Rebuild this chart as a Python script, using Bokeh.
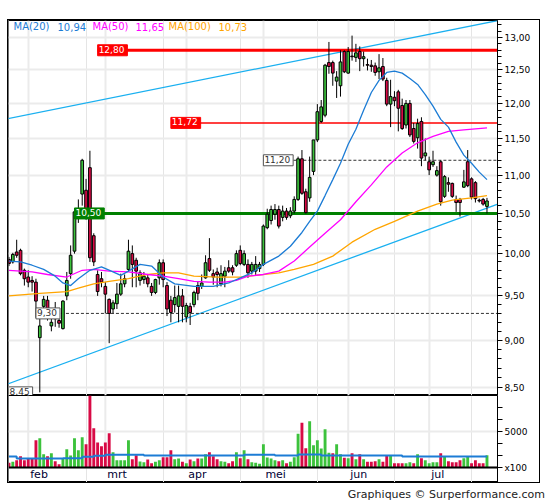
from bokeh.plotting import figure
from bokeh.models import (ColumnDataSource, FixedTicker, Range1d, Grid, CustomJSTickFormatter,
                          Label, Span, Div, Spacer)
from bokeh.layouts import column, row
from bokeh.core.properties import value
from bokeh.embed import file_html
from bokeh.resources import INLINE

# ---------------- data ----------------
opens = [9.93, 9.90, 10.02, 10.04, 9.80, 9.72, 9.68, 9.66, 9.03, 9.38,
         9.45, 9.16, 9.35, 9.22, 9.13, 9.50, 9.76, 10.03, 10.45, 10.75,
         10.80, 11.10, 10.22, 9.75, 9.70, 9.61, 9.46, 9.35, 9.41, 9.52,
         9.64, 9.81, 10.00, 9.92, 9.68, 9.69, 9.71, 9.61, 9.54, 9.71,
         9.89, 9.62, 9.45, 9.40, 9.38, 9.50, 9.26, 9.38, 9.40, 9.62,
         9.61, 9.71, 9.94, 9.76, 9.78, 9.64, 9.73, 9.83, 9.83, 9.86,
         10.04, 9.87, 9.87, 9.79, 9.79, 9.82, 9.87, 10.32, 10.41, 10.49,
         10.55, 10.45, 10.53, 10.47, 10.53, 10.68, 11.22, 10.78, 10.70, 11.05,
         11.48, 11.74, 11.83, 12.61, 12.61, 12.33, 12.26, 12.78, 12.45, 12.71,
         12.69, 12.78, 12.67, 12.58, 12.57, 12.56, 12.47, 12.55, 12.34, 11.99,
         12.09, 12.17, 11.97, 11.69, 12.00, 11.64, 11.51, 11.74, 11.26, 11.18,
         11.14, 11.00, 11.18, 10.72, 10.90, 10.89, 10.68, 10.68, 10.84, 11.18,
         10.95, 10.90, 10.67, 10.68, 10.59]
highs = [9.96, 10.01, 10.17, 10.06, 9.82, 9.80, 9.73, 9.70, 9.31, 9.50,
         9.50, 9.30, 9.43, 9.25, 9.45, 9.78, 10.10, 10.55, 10.68, 11.22,
         10.95, 11.33, 10.25, 9.80, 9.78, 9.66, 9.47, 9.45, 9.65, 9.76,
         9.75, 10.17, 10.10, 9.95, 9.80, 9.78, 9.75, 9.65, 9.70, 9.93,
         9.93, 9.66, 9.50, 9.62, 9.62, 9.58, 9.42, 9.42, 9.56, 9.67,
         9.75, 9.98, 10.19, 9.81, 9.83, 9.86, 9.84, 9.92, 9.86, 10.04,
         10.10, 10.04, 9.93, 9.90, 9.97, 9.90, 10.36, 10.56, 10.60, 10.62,
         10.60, 10.60, 10.57, 10.58, 10.72, 11.25, 11.34, 10.82, 11.25, 11.48,
         11.99, 12.05, 12.59, 12.93, 12.64, 12.48, 12.80, 12.80, 12.85, 13.03,
         12.90, 12.86, 12.78, 12.67, 12.65, 12.61, 12.74, 12.68, 12.38, 12.35,
         12.18, 12.20, 12.07, 12.05, 12.05, 11.72, 11.78, 11.80, 11.50, 11.25,
         11.33, 11.12, 11.20, 11.00, 10.97, 10.90, 10.73, 10.70, 11.07, 11.34,
         10.97, 10.92, 10.69, 10.70, 10.70]
lows = [9.85, 9.88, 9.95, 9.74, 9.62, 9.60, 9.55, 9.25, 8.45, 9.30,
        9.22, 9.10, 9.15, 9.14, 9.12, 9.45, 9.70, 10.00, 10.38, 10.60,
        10.42, 9.90, 9.85, 9.50, 9.60, 9.30, 8.97, 9.30, 9.35, 9.50,
        9.60, 9.78, 9.60, 9.60, 9.62, 9.64, 9.60, 9.50, 9.52, 9.63,
        9.60, 9.27, 9.20, 9.31, 9.20, 9.20, 9.20, 9.17, 9.37, 9.45,
        9.58, 9.70, 9.78, 9.63, 9.60, 9.61, 9.60, 9.77, 9.74, 9.84,
        9.86, 9.85, 9.71, 9.75, 9.74, 9.78, 9.85, 10.30, 10.36, 10.42,
        10.31, 10.40, 10.42, 10.44, 10.50, 10.66, 10.74, 10.50, 10.65, 11.00,
        11.45, 11.72, 11.80, 12.44, 12.26, 12.08, 12.10, 12.45, 12.44, 12.64,
        12.62, 12.48, 12.55, 12.49, 12.47, 12.41, 12.36, 12.33, 11.96, 11.66,
        11.96, 11.60, 11.62, 11.64, 11.52, 11.43, 11.36, 11.12, 11.20, 11.00,
        11.11, 10.98, 10.60, 10.70, 10.78, 10.70, 10.52, 10.46, 10.83, 10.84,
        10.68, 10.64, 10.64, 10.60, 10.50]
closes = [9.88, 9.99, 9.98, 9.76, 9.70, 9.66, 9.66, 9.44, 9.16, 9.46,
          9.32, 9.20, 9.24, 9.19, 9.44, 9.68, 9.98, 10.52, 10.55, 11.20,
          10.48, 9.95, 9.90, 9.55, 9.66, 9.52, 9.30, 9.42, 9.52, 9.64,
          9.70, 10.03, 9.87, 9.79, 9.77, 9.73, 9.64, 9.54, 9.69, 9.89,
          9.69, 9.35, 9.31, 9.48, 9.50, 9.38, 9.39, 9.31, 9.54, 9.53,
          9.65, 9.89, 9.80, 9.72, 9.75, 9.76, 9.79, 9.79, 9.78, 10.00,
          9.88, 10.00, 9.77, 9.87, 9.87, 9.87, 10.34, 10.49, 10.55, 10.55,
          10.34, 10.53, 10.45, 10.53, 10.68, 11.22, 10.76, 10.51, 10.97, 11.48,
          11.88, 11.95, 12.57, 12.55, 12.45, 12.39, 12.62, 12.47, 12.78, 12.70,
          12.76, 12.67, 12.70, 12.57, 12.55, 12.46, 12.53, 12.36, 11.99, 12.10,
          12.04, 11.93, 11.64, 12.00, 11.55, 11.46, 11.71, 11.23, 11.30, 11.07,
          11.18, 11.06, 10.65, 10.98, 10.88, 10.72, 10.64, 10.64, 10.91, 10.86,
          10.71, 10.69, 10.66, 10.62, 10.66]
# volume in units of 100 shares
volumes = [650, 790, 1020, 1570, 1020, 1250, 1250, 3800, 4070, 1850,
           1570, 1990, 880, 460, 1250, 2550, 1670, 4070, 2410, 4210,
           3240, 10000, 5460, 3470, 2960, 3470, 4770, 2130, 1020, 1020,
           1020, 3800, 1160, 1710, 830, 740, 1110, 600, 790, 1020,
           1440, 1440, 2410, 1160, 1250, 790, 600, 1110, 880, 1250,
           1250, 1850, 2130, 1570, 1160, 880, 790, 600, 880, 2130,
           1300, 2410, 1160, 740, 650, 510, 3240, 1390, 1250, 1020,
           880, 1020, 600, 790, 1440, 4680, 6200, 2690, 6440, 3100,
           3800, 2640, 5320, 2040, 1990, 3240, 1850, 1340, 1300, 1990,
           1160, 1850, 1160, 790, 790, 880, 1160, 790, 1670, 1670,
           600, 600, 600, 600, 740, 600, 1850, 1300, 1020, 600,
           740, 740, 1990, 1570, 880, 740, 740, 1020, 1300, 1570,
           600, 1020, 600, 600, 1710]
vol_dir = ("RGRRRRRRGG" "RGRRGGGGGG" "RRRRRRRGGG" "GGRRGGRRGG" "RRRGGRGRGR"
           "GGRRRGGRRG" "RGRGGGGGGG" "RGRGGGRRGG" "GGGGRGGRGR" "GRGRRRGRRG"
           "RRRGGRGRGG" "GGRGRRRRGG" "RRRRG")
vol_ma_x = [0, 2, 14, 19, 22, 25, 35, 61, 69, 75, 81, 102, 124]
vol_ma_y = [1530, 1250, 1300, 1480, 1620, 1760, 1670, 1780, 1670, 1800, 1670, 1530, 1530]
vol_unit = "x100"

ma20_x = [0, 3, 6, 9, 12, 14, 16, 18, 21, 24, 27, 29, 31, 34, 37, 40, 43, 48, 53, 57,
          60, 63, 66, 70, 73, 76, 78, 80, 82, 84, 86, 88, 90, 92, 94, 96, 98, 100, 102,
          104, 106, 108, 110, 112, 114, 116, 118, 120, 122, 124]
ma20_y = [9.91, 9.90, 9.86, 9.81, 9.73, 9.65, 9.62, 9.70, 9.80, 9.84, 9.78, 9.74, 9.79,
          9.87, 9.85, 9.72, 9.64, 9.61, 9.61, 9.65, 9.71, 9.77, 9.87, 9.97, 10.09, 10.26,
          10.40, 10.53, 10.73, 10.94, 11.16, 11.42, 11.63, 11.90, 12.16, 12.34, 12.46,
          12.48, 12.45, 12.37, 12.28, 12.13, 11.96, 11.77, 11.66, 11.45, 11.27, 11.16,
          11.04, 10.94]
ma50_x = [0, 6, 10, 15, 19, 22, 26, 31, 36, 40, 44, 48, 52, 56, 59, 62, 66, 70, 74, 78,
          82, 86, 90, 94, 98, 102, 106, 110, 114, 118, 124]
ma50_y = [9.80, 9.78, 9.75, 9.72, 9.80, 9.81, 9.79, 9.78, 9.75, 9.73, 9.70, 9.67, 9.66,
          9.66, 9.68, 9.73, 9.75, 9.79, 9.91, 10.08, 10.25, 10.42, 10.65, 10.87, 11.11,
          11.30, 11.44, 11.53, 11.60, 11.62, 11.65]
ma100_x = [0, 8, 15, 18, 22, 26, 31, 36, 40, 44, 48, 54, 60, 64, 70, 74, 79, 84, 89, 95,
           100, 106, 111, 115, 120, 124]
ma100_y = [9.50, 9.53, 9.55, 9.59, 9.64, 9.67, 9.70, 9.75, 9.77, 9.77, 9.73, 9.72, 9.72,
           9.74, 9.77, 9.81, 9.87, 9.97, 10.14, 10.30, 10.40, 10.53, 10.62, 10.67, 10.70,
           10.73]
ma_names = ["MA(20)", "MA(50)", "MA(100)"]
ma_last = ["10,94", "11,65", "10,73"]

# trend lines (day index, price)
trend_hi_x = [-0.4, 126.8]
trend_hi_y = [11.78, 13.27]
trend_lo_x = [-0.4, 126.8]
trend_lo_y = [8.535, 10.62]

# horizontal levels
level_price = [12.80, 11.72, 11.20, 10.50, 9.30]
level_start = [23, 42, 66, 17, 7]
level_text = ["12,80", "11,72", "11,20", "10,50", "9,30"]
low_mark_price = 8.45
low_mark_text = "8,45"

month_idx = [5, 25, 46, 66, 88, 109]
month_names = ["feb", "mrt", "apr", "mei", "jun", "jul"]

price_ticks = [8.5, 9.0, 9.5, 10.0, 10.5, 11.0, 11.5, 12.0, 12.5, 13.0]
vol_ticks = [0, 5000]

# ---------------- styling ----------------
FONT = "DejaVu Sans"
RED = "#d80a45"
GREEN = "#3cc23c"
C20, C50, C100 = "#1c7cd5", "#ff00ff", "#ffa500"
TREND = "#1ab0f0"
GRID = "#ebebeb"
W = 531          # figure width (canvas)
RB = 42          # right axis band

n = len(closes)
xs = list(range(n))
src = ColumnDataSource(dict(
    x=xs, o=opens, h=highs, l=lows, c=closes,
    top=[max(o, c) for o, c in zip(opens, closes)],
    bot=[min(o, c) for o, c in zip(opens, closes)],
    col=[GREEN if c >= o else RED for o, c in zip(opens, closes)],
))
vsrc = ColumnDataSource(dict(x=xs, v=volumes, col=[GREEN if d == "G" else RED for d in vol_dir]))

xr = Range1d(-0.12, 126.73)
p1 = figure(width=W, height=375, y_axis_type="log", x_range=xr,
            y_range=Range1d(8.418, 13.271), x_axis_location=None, y_axis_location="right",
            output_backend="svg", toolbar_location=None,
            min_border_left=0, min_border_right=RB, min_border_top=0, min_border_bottom=0,
            background_fill_color="white", border_fill_color="white",
            outline_line_color="black", outline_line_width=1)
ax = p1.yaxis[0]
minor = [round(8.5 + 0.1 * k, 2) for k in range(48)]
ax.ticker = FixedTicker(ticks=price_ticks, minor_ticks=minor)
ax.formatter = CustomJSTickFormatter(code="return tick.toFixed(2).replace('.', ',');")
ax.major_label_text_font = FONT
ax.major_label_text_font_size = "9px"
ax.major_label_text_color = "black"
ax.major_label_standoff = 2
ax.major_tick_out = 5
ax.major_tick_in = 0
ax.minor_tick_out = 4
ax.minor_tick_in = 0
ax.axis_line_color = "black"
p1.ygrid.grid_line_color = GRID
p1.ygrid.grid_line_width = 2
p1.add_layout(Grid(dimension=0, ticker=FixedTicker(ticks=month_idx),
                   grid_line_color=GRID, grid_line_width=2))

# trend lines
p1.line(trend_hi_x, trend_hi_y, line_color=TREND, line_width=1.3)
p1.line(trend_lo_x, trend_lo_y, line_color=TREND, line_width=1.3)

# horizontal levels
lvl_style = [
    dict(line_color="#ff0000", line_width=3),
    dict(line_color="#ff0000", line_width=1.5),
    dict(line_color="#333333", line_width=1, line_dash="3 2"),
    dict(line_color="#008000", line_width=3),
    dict(line_color="#333333", line_width=1, line_dash="3 2"),
]
lbl_style = [
    dict(background_fill_color="#ff0000", text_color="white", border_line_color="#ff0000"),
    dict(background_fill_color="#ff0000", text_color="white", border_line_color="#ff0000"),
    dict(background_fill_color="white", text_color="#333333", border_line_color="#555555"),
    dict(background_fill_color="#008000", text_color="white", border_line_color="#008000"),
    dict(background_fill_color="white", text_color="#333333", border_line_color="#555555"),
]
for pr, st, sty in zip(level_price, level_start, lvl_style):
    p1.segment(x0=[st], y0=[pr], x1=[200], y1=[pr], **sty)

# candles
p1.segment(x0="x", y0="l", x1="x", y1="h", source=src, line_color="black", line_width=1)
p1.vbar(x="x", width=0.7, top="top", bottom="bot", source=src,
        fill_color="col", line_color="black", line_width=1)

# moving averages
p1.line(ma100_x, ma100_y, line_color=C100, line_width=1.3)
p1.line(ma50_x, ma50_y, line_color=C50, line_width=1.3)
p1.line(ma20_x, ma20_y, line_color=C20, line_width=1.3)

for pr, st, txt, sty in zip(level_price, level_start, level_text, lbl_style):
    p1.add_layout(Label(x=st, y=pr, text=txt, text_align="left", text_baseline="middle",
                        text_font=FONT, text_font_size="9px", padding=(1, 3, 1, 3),
                        border_line_width=1, **sty))
p1.add_layout(Label(x=-0.1, y=low_mark_price, text=low_mark_text, text_align="left",
                    text_baseline="middle", text_font=FONT, text_font_size="9px",
                    padding=(1, 3, 1, 3), background_fill_color="white",
                    border_line_color="#555555", text_color="#333333"))

# legend row
leg_x = [5, 49, 84, 127, 160, 210]
leg_txt = [ma_names[0], ma_last[0], ma_names[1], ma_last[1], ma_names[2], ma_last[2]]
leg_col = [C20, C20, C50, C50, C100, C100]
for lx, t, c in zip(leg_x, leg_txt, leg_col):
    p1.add_layout(Label(x=lx, y=369, x_units="screen", y_units="screen", text=t,
                        text_color=c, text_font=FONT, text_font_size="10px",
                        text_baseline="middle", text_align="left"))

# ---------------- volume panel ----------------
p2 = figure(width=W, height=87, x_range=xr, y_range=Range1d(-2083, 10000),
            x_axis_location=None, y_axis_location="right",
            output_backend="svg", toolbar_location=None,
            min_border_left=0, min_border_right=RB, min_border_top=0, min_border_bottom=0,
            background_fill_color="white", border_fill_color="white",
            outline_line_color="black", outline_line_width=1)
vax = p2.yaxis[0]
vax.ticker = FixedTicker(ticks=vol_ticks, minor_ticks=[1666.7, 3333.3, 6666.7, 8333.3])
vax.formatter = CustomJSTickFormatter(args=dict(unit=vol_unit),
                                      code="return tick == 0 ? unit : tick.toFixed(0);")
vax.major_label_text_font = FONT
vax.major_label_text_font_size = "9px"
vax.major_label_text_color = "black"
vax.major_label_standoff = 2
vax.major_tick_out = 5
vax.major_tick_in = 0
vax.minor_tick_out = 5
vax.minor_tick_in = 0
p2.ygrid.grid_line_color = GRID
p2.ygrid.grid_line_width = 2
p2.segment(x0=month_idx, y0=[0] * len(month_idx), x1=month_idx, y1=[10000] * len(month_idx),
           line_color=GRID, line_width=2)
p2.vbar(x="x", width=0.75, top="v", bottom=0, source=vsrc, fill_color="col", line_color=None)
p2.step(vol_ma_x, vol_ma_y, mode="after", line_color=C20, line_width=2)
p2.add_layout(Span(location=0, dimension="width", line_color="black", line_width=2))
p2.text(x=month_idx, y=[-1040] * len(month_idx), text=month_names, x_offset=2,
        text_font=value(FONT), text_font_size="11px", text_align="left",
        text_baseline="middle", text_color="#000033")

inner = column(p1, p2, spacing=0, styles={"border": "1px solid black"})
footer = Div(text="Graphiques © Surperformance.com", width=W + 2, height=14,
             styles={"text-align": "right", "font-family": FONT, "font-size": "11px",
                     "color": "#222222", "line-height": "14px"})
body = column(inner, footer, spacing=0)
left_gap = Spacer(width=7, height=10, sizing_mode="fixed")
top_gap = Spacer(width=540, height=19, sizing_mode="fixed")
layout = column(top_gap, row(left_gap, body, spacing=0), spacing=0)

open("out.html", "w").write(file_html(layout, INLINE))
